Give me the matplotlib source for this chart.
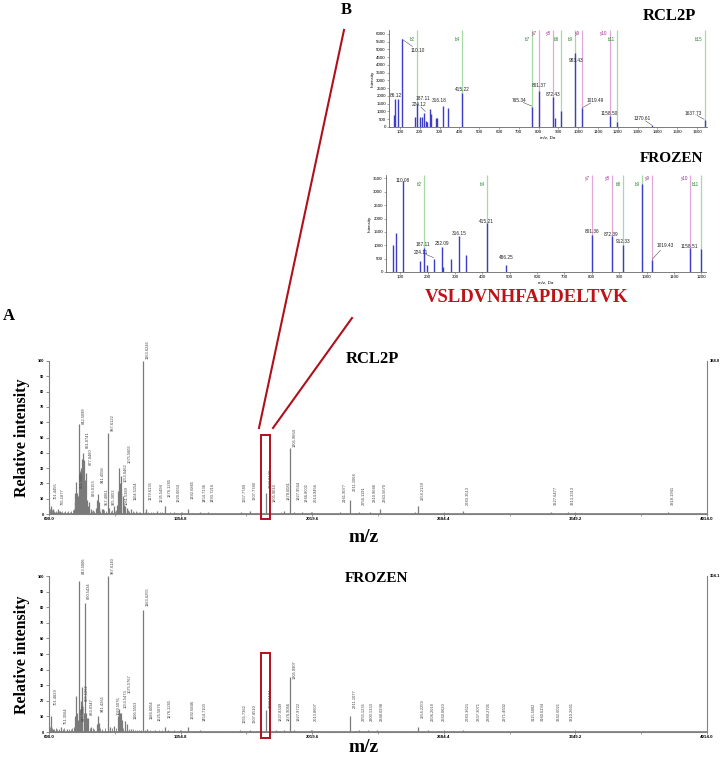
import matplotlib
matplotlib.use('Agg')
import matplotlib.pyplot as plt
from matplotlib.lines import Line2D
from matplotlib.patches import Rectangle

W, H = 720, 764
SERIF = ['Liberation Serif', 'DejaVu Serif']
SANS = ['Liberation Sans', 'DejaVu Sans']

# ---------------- Panel A data (relative intensity, %) ----------------
a_xticks = [690.0, 1354.8, 2019.6, 2684.4, 3349.2, 4014.0]
a_xticklabels = ['690.0', '1354.8', '2019.6', '2684.4', '3349.2', '4014.0']
rcl_max_label = '388.0'
frz_max_label = '304.1'

rcl_mz = [698, 701.4456, 709, 735.1877, 745, 815, 820, 823, 826, 829, 831.5005, 836,
          842.5099, 845, 850, 855, 861.0741, 863, 867, 871, 877.048, 881, 885,
          893.0153, 900, 926, 931, 936, 941.4558, 945, 957.4061, 964, 987.6122,
          995.3053, 1018, 1036, 1040, 1045, 1049, 1053.0462, 1056, 1061.5389, 1068,
          1075.5603, 1082, 1104.5154, 1163.6245, 1179.6135, 1235.5494, 1276.1265,
          1320.6034, 1392.6865, 1454.7136, 1493.7216, 1657.7749, 1707.778, 1787.8146,
          1805.9014, 1878.0081, 1905.9664, 1927.9564, 1966.8002, 2014.9456, 2161.9077,
          2211.1064, 2256.1191, 2310.9646, 2363.567, 2539, 2554.2139, 2783.3513,
          3227.6477, 3313.3313, 3818.1941]
rcl_int = [5, 4, 3, 3, 2, 3, 8, 14, 21, 14, 9, 12,
           59, 28, 30, 36, 40, 33, 35, 22, 27, 9, 5,
           8, 3, 4, 9, 13, 8, 4, 3, 3, 53,
           4, 5, 6, 15, 30, 20, 25, 14, 12, 6,
           5, 4, 3, 100, 3, 2, 5,
           1.5, 3, 1, 1, 1, 2, 14,
           1.5, 2, 43, 1.5, 1, 1, 1,
           9, 1.5, 1, 3, 1, 5, 2,
           1, 1, 1]
rcl_noise_mz = [692, 695, 705, 713, 718, 724, 729, 740, 752, 758, 764, 771, 779, 788,
                796, 803, 810, 890, 905, 912, 918, 950, 970, 978, 1005, 1010, 1025,
                1030, 1088, 1094, 1112, 1120, 1128, 1136, 1145, 1152, 1175, 1192,
                1205, 1215, 1250, 1262, 1300, 1340, 1360, 1410, 1470, 1530, 1580,
                1620, 1680, 1740, 1760, 1840, 1860, 1950, 1990, 2060, 2120, 2190,
                2240, 2280, 2330, 2420, 2480, 2600, 2700]
rcl_noise_int = [2, 3, 2.5, 2, 1.5, 2, 1.5, 2, 1.5, 2, 1.5, 2, 1.5, 2,
                 1.5, 2, 2.5, 2.5, 2, 2.5, 2, 2, 2.5, 2, 2, 2.5, 2,
                 2.5, 2.5, 2, 2, 1.5, 2, 1.5, 1, 1.5, 1.5, 1,
                 1, 1, 1.5, 1, 1, 0.8, 1, 0.8, 0.8, 0.8, 0.8,
                 0.8, 0.8, 0.8, 1, 0.8, 1, 0.8, 0.8, 0.6, 0.6, 0.6,
                 0.8, 0.6, 0.6, 0.5, 0.5, 0.5, 0.5]
rcl_lab_mz = [701.4456, 735.1877, 831.5005, 842.5099, 861.0741, 877.048, 893.0153,
              941.4558, 957.4061, 987.6122, 995.3053, 1053.0462, 1061.5389, 1075.5603,
              1104.5154, 1163.6245, 1179.6135, 1235.5494, 1276.1265, 1320.6034,
              1392.6865, 1454.7136, 1493.7216, 1657.7749, 1707.778, 1787.8146,
              1805.9014, 1878.0081, 1905.9664, 1927.9564, 1966.8002, 2014.9456,
              2161.9077, 2211.1064, 2256.1191, 2310.9646, 2363.567, 2554.2139,
              2783.3513, 3227.6477, 3313.3313, 3818.1941]
rcl_lab_y = [9, 5, 16, 58, 42, 31, 11, 19, 5, 53, 5, 20, 5, 32,
             8, 100, 8, 7, 10, 7, 9, 7, 7, 7, 8, 16,
             7, 8, 43, 8, 7, 7, 7, 14, 5, 7, 7, 8,
             5, 5, 5, 5]

frz_mz = [698, 701.4829, 710, 751.3564, 780, 815, 822, 826, 830, 835, 843.5006, 845.5082,
          850, 855, 859.1262, 865, 870.5434, 875, 883.0347, 889, 900, 930, 936,
          941.4265, 987.614, 1000, 1020.5076, 1040, 1045, 1050, 1053.5473, 1060,
          1075.5767, 1086, 1106.5553, 1163.6255, 1186.6004, 1225.5876, 1276.1265,
          1290, 1392.6846, 1454.7103, 1655.7362, 1707.851, 1787.8174, 1837.8349,
          1876.9066, 1905.9907, 1927.9722, 2013.8607, 2211.1077, 2255.1235, 2300.1333,
          2348.0298, 2554.2259, 2606.2018, 2660.062, 2783.3621, 2837.3071]
frz_int = [10, 4, 2, 3, 2, 3, 10, 23, 12, 8, 97, 15,
           20, 29, 18, 12, 83, 12, 9, 9, 3, 5, 10,
           6, 100, 3, 4, 10, 15, 12, 12, 8,
           7, 5, 2, 78, 2, 1.5, 3,
           1, 3, 1.5, 1, 1.5, 14, 1.5,
           1.5, 35, 1.5, 1, 10, 1, 1,
           1, 3, 1, 0.5, 1, 0.5]
frz_noise_mz = [692, 695, 705, 716, 724, 732, 740, 760, 768, 790, 800, 808, 895, 910,
                918, 950, 960, 972, 1008, 1028, 1066, 1094, 1115, 1125, 1135, 1145,
                1155, 1175, 1200, 1245, 1260, 1320, 1350, 1420, 1500, 1560, 1620,
                1700, 1740, 1800, 1850, 1960, 2050, 2120, 2180, 2240, 2400, 2500]
frz_noise_int = [2, 3, 2.5, 2, 2.5, 2, 2, 2, 2.5, 2, 2, 2.5, 2.5, 2.5,
                 2, 2.5, 2, 2.5, 2.5, 2.5, 2.5, 2, 2, 1.5, 1.5, 1.5,
                 1.5, 1, 1, 1, 1, 1, 1, 0.8, 0.8, 0.8, 0.8,
                 0.8, 0.8, 0.8, 0.8, 0.6, 0.6, 0.6, 0.6, 0.6, 0.5, 0.5]
frz_lab_mz = [701.4829, 751.3564, 843.5006, 845.5082, 859.1262, 870.5434, 883.0347,
              941.4265, 987.614, 1020.5076, 1053.5473, 1075.5767, 1106.5553, 1163.6255,
              1186.6004, 1225.5876, 1276.1265, 1392.6846, 1454.7103, 1655.7362,
              1707.851, 1787.8174, 1837.8349, 1876.9066, 1905.9907, 1927.9722,
              2013.8607, 2211.1077, 2255.1235, 2300.1333, 2348.0298, 2554.2259,
              2606.2018, 2660.062, 2783.3621, 2837.3071, 2889.2705, 2971.4602,
              3115.5002, 3160.6194, 3242.6021, 3310.2661]
frz_lab_y = [16, 4, 100, 6, 19, 84, 10, 12, 100, 10, 14, 24, 7, 80,
             7, 6, 8, 7, 6, 5, 5, 14, 6, 6, 33, 6,
             6, 14, 6, 6, 6, 8, 6, 6, 6, 6, 6, 6,
             6, 6, 6, 6]

# peptide region boxes (m/z range, % range)
box_mz = (1760, 1805)
box_rcl_y = (-3.3, 51.6)
box_frz_y = (-3.6, 50.7)

# ---------------- Panel B data (MS/MS, intensity counts) ----------------
rcl_b_mz = [72, 74, 88, 110.10, 175, 187.11, 200, 212, 224.12, 230, 235, 252, 258,
            283, 286, 316.18, 342, 415.22, 765.34, 801.37, 872.43, 885, 912, 983.43,
            1019.49, 1158.50, 1197, 1370.61, 1637.73]
rcl_b_int = [800, 1800, 1800, 5700, 650, 1500, 650, 650, 900, 400, 350, 1150, 850,
             600, 600, 1350, 1200, 2200, 1300, 2300, 1950, 550, 1000, 4800,
             1200, 700, 300, 100, 450]
rcl_b_ions = ['b2', 'b4', 'b7', 'b8', 'b9', 'b11', 'b15']
rcl_b_ion_mz = [187.11, 415.22, 765.34, 912.0, 983.43, 1198.0, 1637.73]
rcl_y_ions = ['y7', 'y8', 'y9', 'y10']
rcl_y_ion_mz = [801.37, 872.43, 1019.49, 1158.50]

frz_b_mz = [72, 86, 110.08, 173, 187.11, 199, 224.11, 252.09, 258, 284, 316.15, 342,
            415.21, 486.25, 801.36, 872.39, 912.33, 983.35, 1019.43, 1158.51, 1198]
frz_b_int = [1000, 1450, 3400, 400, 900, 280, 500, 950, 200, 500, 1350, 650,
             1850, 250, 1400, 1350, 1000, 3300, 450, 900, 850]
frz_b_ions = ['b2', 'b4', 'b8', 'b9', 'b11']
frz_b_ion_mz = [187.11, 415.21, 912.33, 983.35, 1198.0]
frz_y_ions = ['y7', 'y8', 'y9', 'y10']
frz_y_ion_mz = [801.36, 872.39, 1019.43, 1158.51]

# annotation text: (text, x, y, leader target x, leader target y)
rcl_b_labels = [('86.12', 80, 2050, None, None), ('110.10', 190, 4950, 112, 5650),
                ('187.11', 218, 1850, None, None), ('224.12', 195, 1440, 228, 1000),
                ('316.18', 300, 1700, None, None), ('415.22', 415, 2420, None, None),
                ('765.34', 700, 1700, 765, 1350), ('801.37', 802, 2680, None, None),
                ('872.43', 874, 2080, None, None), ('983.43', 987, 4290, None, None),
                ('1019.49', 1085, 1710, 1022, 1250), ('1158.50', 1155, 860, None, None),
                ('1370.61', 1324, 540, 1370, 130), ('1637.73', 1581, 880, 1635, 500)]
frz_b_labels = [('110.08', 108, 3440, None, None), ('187.11', 184, 1025, None, None),
                ('224.11', 177, 725, 222, 540), ('252.09', 254, 1060, None, None),
                ('316.15', 315, 1440, None, None), ('415.21', 413, 1900, None, None),
                ('486.25', 486, 525, None, None), ('801.36', 802, 1500, None, None),
                ('872.39', 872, 1400, None, None), ('912.33', 913, 1150, None, None),
                ('1019.43', 1067, 1000, 1021, 480), ('1158.51', 1155, 940, None, None)]

peptide = 'VSLDVNHFAPDELTVK'

# ---------------- figure ----------------
fig = plt.figure(figsize=(W / 100, H / 100), dpi=100)
fig.patch.set_facecolor('white')


def ax_px(L, T, R, B):
    return fig.add_axes([L / W, 1 - B / H, (R - L) / W, (B - T) / H])


GRAY = '#7a7a7a'


def panel_a(ax, mz, inten, nmz, nint, lmz, ly, maxlab, box_y):
    ax.set_xlim(a_xticks[0], a_xticks[-1])
    ax.set_ylim(0, 100)
    ax.vlines(nmz, 0, nint, color=GRAY, lw=0.6)
    ax.vlines(mz, 0, inten, color=GRAY, lw=0.9)
    ax.plot([a_xticks[0], a_xticks[-1]], [0.4, 0.4], color=GRAY, lw=0.6)
    for m, y in zip(lmz, ly):
        ax.annotate(f'{m:.4f}', xy=(m, y), xytext=(1.8, 1.2), textcoords='offset points',
                    rotation=90, ha='left', va='bottom', fontsize=2.9,
                    color='#444444', family=SANS, annotation_clip=False)
    for s in ['top']:
        ax.spines[s].set_visible(False)
    for s in ['left', 'bottom', 'right']:
        ax.spines[s].set_color('#808080')
        ax.spines[s].set_linewidth(0.8)
    ax.set_yticks(range(0, 101, 10))
    ax.set_yticklabels([str(v) for v in range(0, 101, 10)], fontsize=2.8,
                       fontweight='bold', family=SANS)
    ax.set_xticks(a_xticks)
    ax.set_xticklabels(a_xticklabels, fontsize=3.2, fontweight='bold', family=SANS)
    mids = [(a + b) / 2 for a, b in zip(a_xticks[:-1], a_xticks[1:])]
    ax.set_xticks(mids, minor=True)
    ax.tick_params(axis='both', which='major', length=2.2, width=0.6, color='#808080',
                   pad=1.2)
    ax.tick_params(axis='x', which='minor', length=1.5, width=0.5, color='#808080')
    ax.tick_params(axis='x', direction='inout')
    ax.text(1.004, 1.0, maxlab, transform=ax.transAxes, fontsize=3.0,
            fontweight='bold', family=SANS, va='center', ha='left')
    ax.add_patch(Rectangle((box_mz[0], box_y[0]), box_mz[1] - box_mz[0],
                           box_y[1] - box_y[0], fill=False, ec='#b0101c', lw=1.4,
                           clip_on=False, zorder=5))


axA1 = ax_px(49, 361, 707, 514)
panel_a(axA1, rcl_mz, rcl_int, rcl_noise_mz, rcl_noise_int, rcl_lab_mz, rcl_lab_y,
        rcl_max_label, box_rcl_y)
axA2 = ax_px(49, 576, 707, 732)
panel_a(axA2, frz_mz, frz_int, frz_noise_mz, frz_noise_int, frz_lab_mz, frz_lab_y,
        frz_max_label, box_frz_y)


def ftext(x, y, s, **kw):
    fig.text(x / W, 1 - y / H, s, **kw)


bold_serif = dict(family=SERIF, fontweight='bold')
ftext(22, 438, 'Relative intensity', rotation=90, ha='center', va='center',
      fontsize=11.5, **bold_serif)
ftext(22, 655, 'Relative intensity', rotation=90, ha='center', va='center',
      fontsize=11.5, **bold_serif)
ftext(372, 359, 'RCL2P', ha='center', va='center', fontsize=12, **bold_serif)
ftext(377, 578, 'FROZEN', ha='center', va='center', fontsize=11, **bold_serif)
ftext(364, 538, 'm/z', ha='center', va='center', fontsize=14, **bold_serif)
ftext(364, 748, 'm/z', ha='center', va='center', fontsize=14, **bold_serif)
ftext(9, 316, 'A', ha='center', va='center', fontsize=12, **bold_serif)
ftext(346, 10, 'B', ha='center', va='center', fontsize=12, **bold_serif)
ftext(669, 16, 'RCL2P', ha='center', va='center', fontsize=12, **bold_serif)
ftext(672, 159, 'FROZEN', ha='center', va='center', fontsize=11, **bold_serif)
ftext(527, 298, peptide, ha='center', va='center', fontsize=13.5, color='#c0101a',
      **bold_serif)

BLUE = '#3d3dc8'
GREEN_L = '#a6d9a6'
PINK_L = '#e2a8da'


def panel_b(ax, mz, inten, bions, bmz, yions, ymz, labels, xlim, ylim, xt, yt, ylab_b,
            ylab_y):
    ax.set_xlim(*xlim)
    ax.set_ylim(*ylim)
    ax.vlines(bmz, 0, ylim[1], color=GREEN_L, lw=0.9, zorder=1)
    ax.vlines(ymz, 0, ylim[1], color=PINK_L, lw=0.9, zorder=1)
    ax.vlines(mz, 0, inten, color=BLUE, lw=1.0, zorder=2)
    for n, m in zip(bions, bmz):
        ax.annotate(n, xy=(m, ylab_b), xytext=(-1.5, 0), textcoords='offset points',
                    ha='right', va='center', fontsize=3.3, color='#2e8b2e', family=SANS)
    for n, m in zip(yions, ymz):
        ax.annotate(n, xy=(m, ylab_y), xytext=(-1.5, 0), textcoords='offset points',
                    ha='right', va='center', fontsize=3.3, color='#9b2c8a', family=SANS)
    for t, x, y, tx, ty in labels:
        ax.text(x, y, t, ha='center', va='center', fontsize=3.4, color='#222222',
                family=SANS, zorder=4)
        if tx is not None:
            ax.plot([x + (tx - x) * 0.35, tx], [y + (ty - y) * 0.35, ty], color='#555555',
                    lw=0.4, zorder=3)
    for s in ['top', 'right']:
        ax.spines[s].set_visible(False)
    for s in ['left', 'bottom']:
        ax.spines[s].set_color('#666666')
        ax.spines[s].set_linewidth(0.6)
    ax.set_xticks(xt)
    ax.set_xticklabels([str(v) for v in xt], fontsize=3.2, family=SANS)
    ax.set_yticks(yt)
    ax.set_yticklabels([str(v) for v in yt], fontsize=3.2, family=SANS)
    ax.tick_params(length=1.3, width=0.4, pad=1, color='#666666')
    ax.set_xlabel('m/z, Da', fontsize=3.2, family=SANS, labelpad=1)
    ax.set_ylabel('Intensity', fontsize=3.2, family=SANS, labelpad=1)


axB1 = ax_px(389, 30, 707, 127)
panel_b(axB1, rcl_b_mz, rcl_b_int, rcl_b_ions, rcl_b_ion_mz, rcl_y_ions, rcl_y_ion_mz,
        rcl_b_labels, (45, 1650), (0, 6250), list(range(100, 1601, 100)),
        list(range(0, 6001, 500)), 5650, 6000)
axB2 = ax_px(386, 175, 706, 272)
panel_b(axB2, frz_b_mz, frz_b_int, frz_b_ions, frz_b_ion_mz, frz_y_ions, frz_y_ion_mz,
        frz_b_labels, (48, 1217), (0, 3630), list(range(100, 1201, 100)),
        list(range(0, 3501, 500)), 3290, 3500)

# red zoom lines connecting panel A region to panel B
RED = '#b0101c'
fig.add_artist(Line2D([344 / W, 259 / W], [1 - 30 / H, 1 - 428 / H], color=RED, lw=1.5,
                      transform=fig.transFigure))
fig.add_artist(Line2D([352 / W, 273 / W], [1 - 318 / H, 1 - 428 / H], color=RED, lw=1.5,
                      transform=fig.transFigure))

fig.savefig('out.png', dpi=100, facecolor='white')
